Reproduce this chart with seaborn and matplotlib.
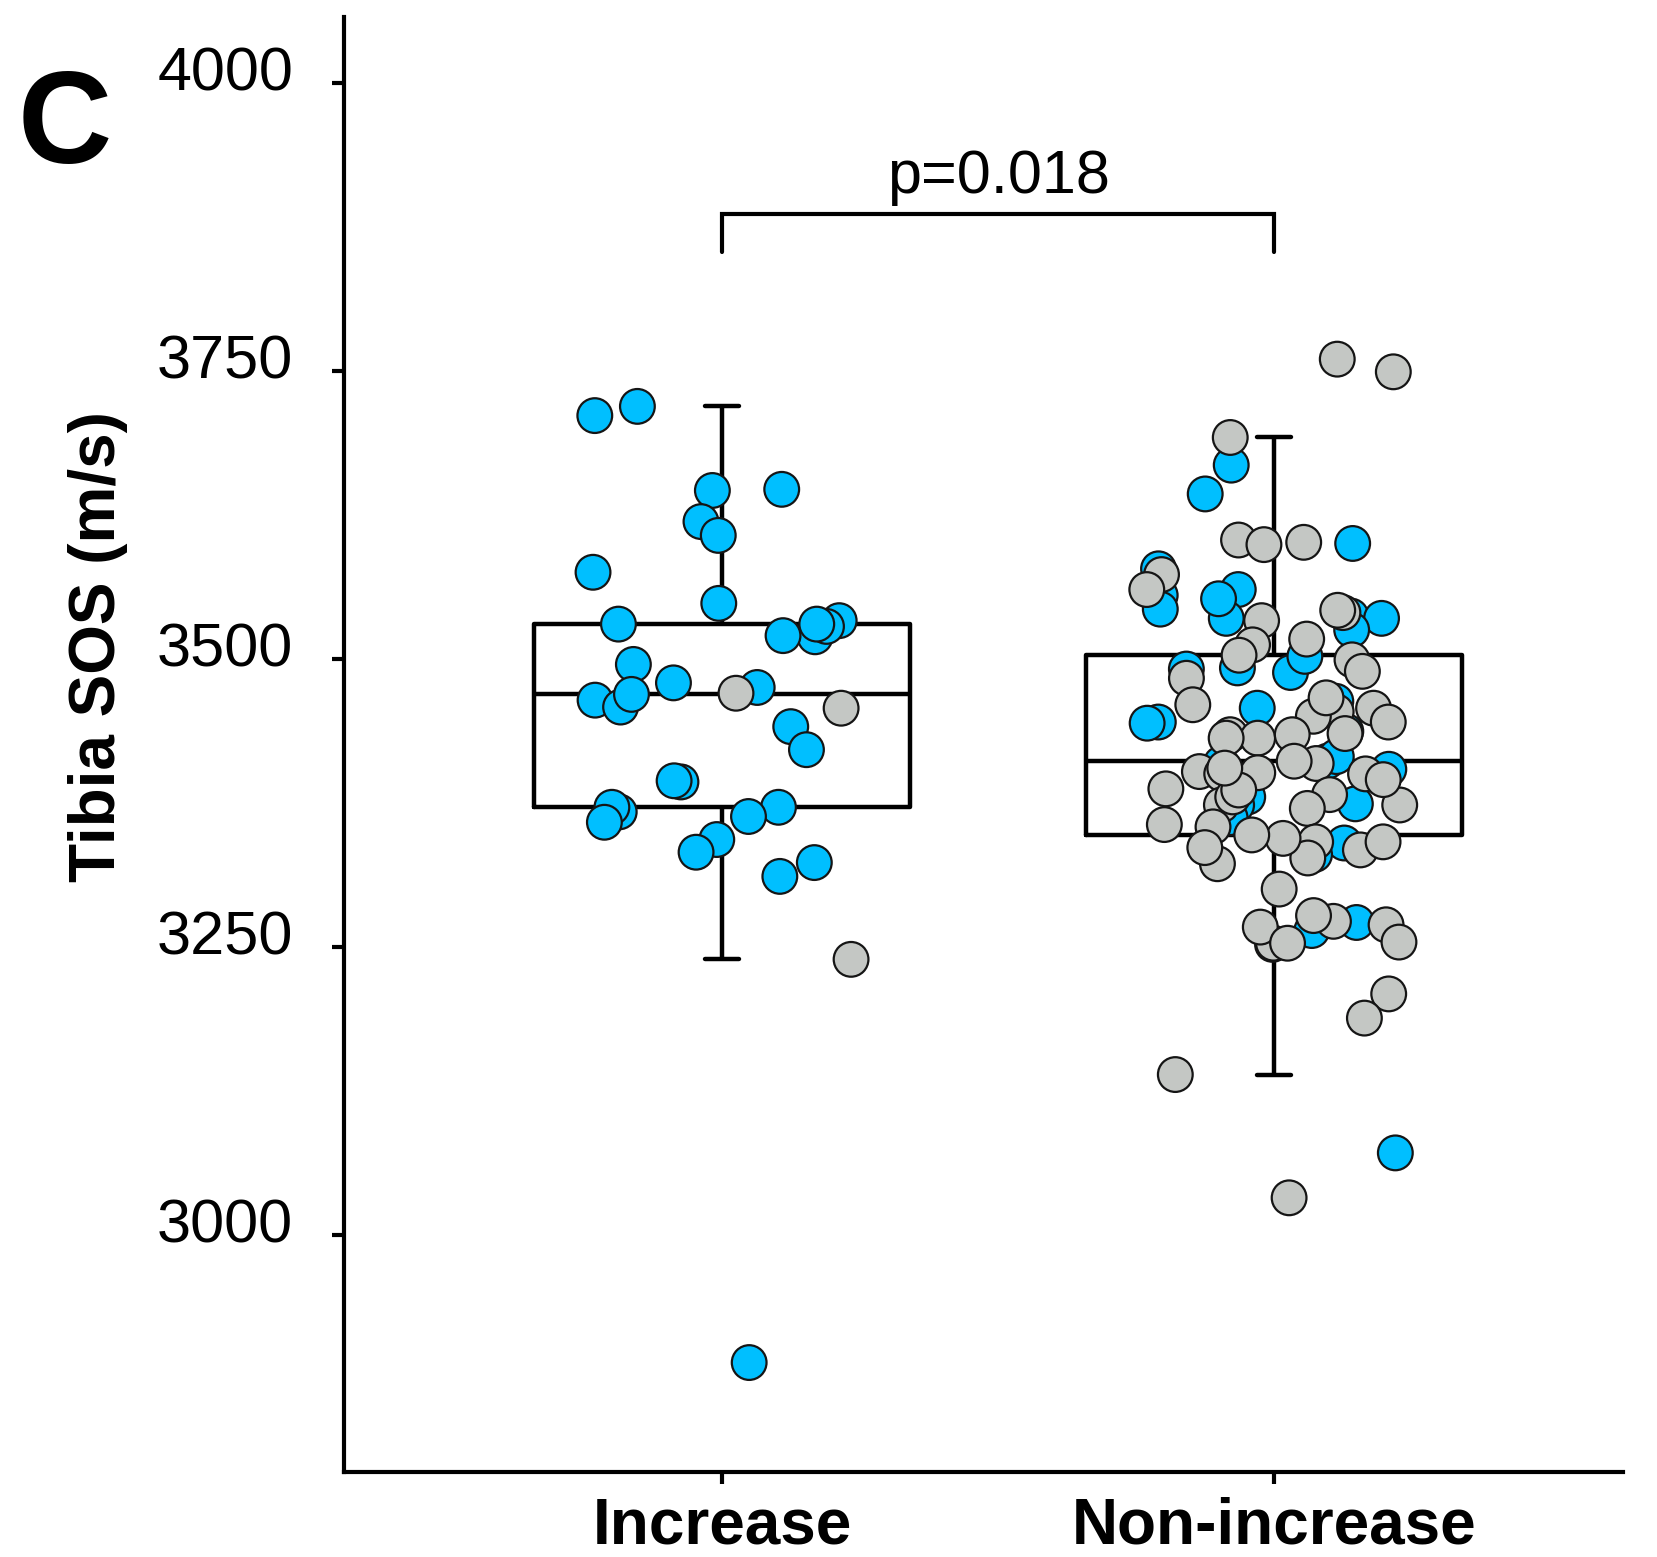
import numpy as np
import pandas as pd
import matplotlib
matplotlib.use("Agg")
import matplotlib.pyplot as plt
import matplotlib.transforms as mtransforms
import seaborn as sns

# ---------------- data ----------------
groups = ["Increase", "Non-increase"]

increase_blue = [3719, 3711, 3646, 3647, 3619, 3607, 3575, 3548, 3533, 3519,
                 3520, 3530, 3528, 3530, 3495, 3475, 3464, 3458, 3479, 3469,
                 3441, 3421, 3393, 3394, 3367, 3371, 3371, 3363, 3358, 3343,
                 3332, 3323, 3311, 2889]
increase_gray = [3470, 3457, 3239]

nonincrease_blue = [3668, 3643, 3600, 3578, 3560, 3555, 3535, 3543, 3552, 3537,
                    3535, 3525, 3488, 3502, 3492, 3491, 3457, 3463, 3445, 3444,
                    3437, 3409, 3411, 3415, 3404, 3380, 3373, 3374, 3340, 3330,
                    3271, 3264, 3071, 3362]
nonincrease_gray = [3760, 3749, 3692, 3601, 3603, 3599, 3573, 3560, 3540, 3533,
                    3517, 3542, 3512, 3503, 3483, 3499, 3489, 3454, 3457, 3450,
                    3466, 3460, 3435, 3434, 3431, 3431, 3434, 3409, 3411, 3400,
                    3402, 3400, 3400, 3401, 3387, 3373, 3356, 3380, 3382, 3373,
                    3370, 3354, 3341, 3327, 3334, 3344, 3341, 3347, 3322, 3300,
                    3269, 3272, 3252, 3253, 3277, 3267, 3253, 3254, 3209, 3188,
                    3139, 3032, 3386, 3395, 3405, 3445, 3336]

y_ticks = [3000, 3250, 3500, 3750, 4000]
y_label = "Tibia SOS (m/s)"
p_text = "p=0.018"
panel_label = "C"
bracket_top = 3886
bracket_bottom = 3853
p_text_y = 3904

# ---------------- styling ----------------
sns.set_theme(style="white")
plt.rcParams["font.family"] = ["Liberation Sans", "DejaVu Sans"]
plt.rcParams["text.color"] = "black"
plt.rcParams["axes.labelcolor"] = "black"
plt.rcParams["xtick.color"] = "black"
plt.rcParams["ytick.color"] = "black"

rows = []
for g, blues, grays in ((groups[0], increase_blue, increase_gray),
                        (groups[1], nonincrease_blue, nonincrease_gray)):
    rows += [(g, v, "blue") for v in blues]
    rows += [(g, v, "gray") for v in grays]
df = pd.DataFrame(rows, columns=["group", "sos", "tone"])

W, H = 1658, 1557
fig = plt.figure(figsize=(W / 100, H / 100), dpi=100)
ax = fig.add_axes([344 / W, 1 - 1472 / H, (1623 - 344) / W, (1472 - 17) / H])

sns.boxplot(data=df, x="group", y="sos", order=groups, width=0.68,
            fill=False, color="black", linecolor="black", linewidth=3.2,
            showfliers=False, whis=1.5, capwidths=0.062, ax=ax)

np.random.seed(11)
sns.stripplot(data=df, x="group", y="sos", order=groups, hue="tone",
              palette={"blue": "#00BFFF", "gray": "#C4C7C4"},
              jitter=0.24, size=25, linewidth=1.6, edgecolor="#151515",
              legend=False, ax=ax, zorder=3)

ax.set_xlim(-0.685, 1.632)
ax.set_ylim(2794, 4057)
ax.set_yticks(y_ticks)
ax.set_yticklabels([str(t) for t in y_ticks])

for side in ("top", "right"):
    ax.spines[side].set_visible(False)
for side in ("left", "bottom"):
    ax.spines[side].set_linewidth(3)
    ax.spines[side].set_color("black")

ax.tick_params(axis="y", direction="out", length=8.6, width=3,
               labelsize=44, pad=28, left=True, colors="black")
ax.tick_params(axis="x", direction="out", length=8.6, width=3,
               labelsize=46, pad=9, bottom=True, colors="black")
for lab in ax.get_xticklabels():
    lab.set_fontweight("bold")

offset = mtransforms.ScaledTranslation(0, 0.14, fig.dpi_scale_trans)
for lab in ax.get_yticklabels():
    lab.set_transform(lab.get_transform() + offset)

ax.set_xlabel("")
ax.set_ylabel(y_label, fontsize=46, fontweight="bold", va="center", color="black")
ax.yaxis.set_label_coords(-0.192, 0.567)

# significance bracket
ax.plot([0, 0, 1, 1], [bracket_bottom, bracket_top, bracket_top, bracket_bottom],
        color="black", linewidth=3, solid_joinstyle="miter", clip_on=False)
ax.text(0.5, p_text_y, p_text, ha="center", va="baseline", fontsize=44,
        color="black")

fig.text(65 / W, 1 - 128 / H, panel_label, fontsize=94, fontweight="bold",
         ha="center", va="center", color="black")

fig.savefig("out.png", dpi=100)
